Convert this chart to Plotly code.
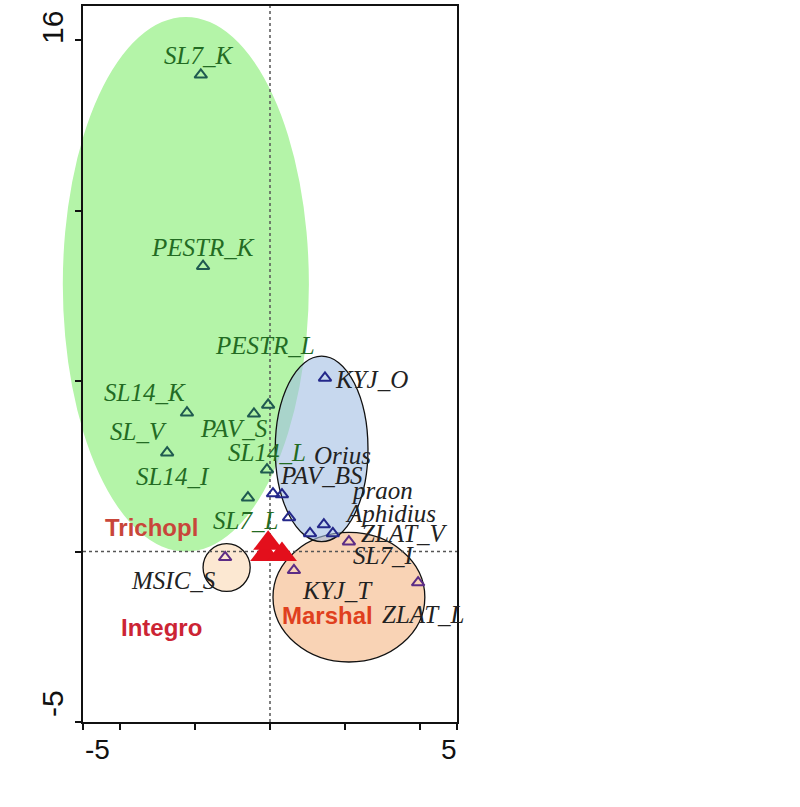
import plotly.graph_objects as go

# ---------------- data ----------------
site_names = ["SL7_K", "PESTR_K", "PESTR_L", "SL14_K", "SL_V", "PAV_S", "SL14_L", "SL14_I",
              "SL7_L", "KYJ_O", "PAV_BS", "Orius", "praon", "Aphidius", "ZLAT_V",
              "SL7_I", "KYJ_T", "ZLAT_L", "MSIC_S"]
site_x = [-1.85, -1.79, -0.05, -2.22, -2.75, -0.43, -0.08, -0.59,
          0.51, 1.47, 0.08, 0.32, 1.44, 1.07, 1.68,
          2.11, 0.64, 3.96, -1.20]
site_y = [13.98, 8.37, 4.30, 4.07, 2.90, 4.04, 2.40, 1.58,
          1.00, 5.09, 1.70, 1.67, 0.79, 0.53, 0.53,
          0.29, -0.55, -0.91, -0.17]
site_marker_group = ["g", "g", "g", "g", "g", "g", "g", "g",
                     "b", "b", "b", "b", "b", "b", "b",
                     "p", "p", "p", "p"]
site_label_group = ["g", "g", "g", "g", "g", "g", "g", "g",
                    "g", "k", "k", "k", "k", "k", "k",
                    "k", "k", "k", "k"]

treat_names = ["Trichopl", "Integro", "Marshal"]
treat_x = [-0.13, -0.05, 0.32]
treat_y = [-0.09, 0.24, -0.09]

# group ellipses (centre, semi-axes) in data units
ell_names = ["green", "msic", "orange", "blue"]
ell_cx = [-2.25, -1.16, 2.11, 1.38]
ell_cy = [7.84, -0.47, -1.34, 3.01]
ell_rx = [3.29, 0.63, 2.03, 1.24]
ell_ry = [7.84, 0.70, 1.90, 2.72]

x_ticks = [-5, -4, -2, 0, 2, 4, 5]
y_ticks = [-5, 0, 5, 10, 15]
x_range = [-5, 5]
y_range = [-5, 16]

# ---------------- styles ----------------
marker_colors = {"g": "#1f5a50", "b": "#24288a", "p": "#5c2c85"}
label_colors = {"g": "#236b23", "k": "#222222"}
ell_styles = {
    "green": dict(fillcolor="#b4f4a8", line=dict(width=0)),
    "msic": dict(fillcolor="#fce8d2", line=dict(color="#111111", width=1.3)),
    "orange": dict(fillcolor="#f9d3b5", line=dict(color="#111111", width=1.3)),
    "blue": dict(fillcolor="rgba(162,190,227,0.6)", line=dict(color="#111111", width=1.3)),
}
# label pixel offsets (dx right, dy up)
site_label_offsets = [(-2, 19), (0, 19), (-3, 59), (-42, 20), (-29, 21), (-20, -15), (0, 17), (-75, 21),
                      (-44, -3), (47, -2), (49, 18), (61, 39), (58, 34), (80, 20), (72, 0),
                      (35, -14), (44, -20), (5, -32), (-52, -23)]
treat_label_offsets = [(-114, 27), (-107, -84), (46, -61)]
treat_label_colors = ["#c8463a", "#cc2434", "#e0401e"]

SERIF = "Liberation Serif, Times New Roman, serif"
SANS = "Liberation Sans, Arial, sans-serif"

fig = go.Figure()

# ellipses (x in axis-domain units so the green one can spill past the left axis)
span = x_range[1] - x_range[0]
for nm, cx, cy, rx, ry in zip(ell_names, ell_cx, ell_cy, ell_rx, ell_ry):
    fig.add_shape(type="circle", xref="x domain", yref="y", layer="below",
                  x0=(cx - rx - x_range[0]) / span, x1=(cx + rx - x_range[0]) / span,
                  y0=cy - ry, y1=cy + ry, **ell_styles[nm])

# dotted origin lines
fig.add_shape(type="line", xref="x", yref="y", layer="below", x0=0, x1=0, y0=y_range[0], y1=y_range[1],
              line=dict(color="#555555", width=1.5, dash="dot"))
fig.add_shape(type="line", xref="x", yref="y", layer="below", x0=x_range[0], x1=x_range[1], y0=0, y1=0,
              line=dict(color="#555555", width=1.5, dash="dot"))

# site / species markers
fig.add_trace(go.Scatter(
    x=site_x, y=site_y, mode="markers", hoverinfo="text", text=site_names,
    marker=dict(symbol="triangle-up-open", size=11,
                color=[marker_colors[g] for g in site_marker_group],
                line=dict(width=2, color=[marker_colors[g] for g in site_marker_group])),
    showlegend=False))

# treatment markers
fig.add_trace(go.Scatter(
    x=treat_x, y=treat_y, mode="markers", hoverinfo="text", text=treat_names,
    marker=dict(symbol="triangle-up", size=26, color="#e30f1c", line=dict(width=0)),
    showlegend=False))

# labels
for nm, x, y, g, (dx, dy) in zip(site_names, site_x, site_y, site_label_group, site_label_offsets):
    fig.add_annotation(x=x, y=y, text=nm, showarrow=False, xshift=dx, yshift=dy,
                       xanchor="center", yanchor="middle",
                       font=dict(family=SERIF, size=25, color=label_colors[g], style="italic"))
for nm, x, y, c, (dx, dy) in zip(treat_names, treat_x, treat_y, treat_label_colors, treat_label_offsets):
    fig.add_annotation(x=x, y=y, text="<b>%s</b>" % nm, showarrow=False, xshift=dx, yshift=dy,
                       xanchor="center", yanchor="middle",
                       font=dict(family=SANS, size=24, color=c))

# axis end labels (placed inside the ends, as in the original)
end_font_x = dict(family=SANS, size=28, color="#111111")
end_font_y = dict(family=SANS, size=30, color="#111111")
fig.add_annotation(x=x_range[0], y=0, xref="x", yref="paper", text=str(x_range[0]), showarrow=False,
                   xanchor="center", yanchor="middle", xshift=14, yshift=-27, font=end_font_x)
fig.add_annotation(x=x_range[1], y=0, xref="x", yref="paper", text=str(x_range[1]), showarrow=False,
                   xanchor="center", yanchor="middle", xshift=-8, yshift=-27, font=end_font_x)
fig.add_annotation(x=0, y=y_range[1], xref="paper", yref="y", text=str(y_range[1]), showarrow=False,
                   xanchor="center", yanchor="middle", xshift=-31, yshift=-22, textangle=-90, font=end_font_y)
fig.add_annotation(x=0, y=y_range[0], xref="paper", yref="y", text=str(y_range[0]), showarrow=False,
                   xanchor="center", yanchor="middle", xshift=-31, yshift=18, textangle=-90, font=end_font_y)

axis_common = dict(showgrid=False, zeroline=False, showline=True, linecolor="#111111", linewidth=2,
                   mirror=True, ticks="outside", ticklen=6, tickwidth=2, tickcolor="#111111",
                   showticklabels=False)
fig.update_xaxes(range=x_range, tickvals=x_ticks, **axis_common)
fig.update_yaxes(range=y_range, tickvals=y_ticks, **axis_common)

fig.update_layout(width=800, height=807, margin=dict(l=83, r=343, t=4, b=85),
                  plot_bgcolor="white", paper_bgcolor="white", showlegend=False)

fig.write_html("out.html", config={"displayModeBar": False},
               post_script="document.body.style.margin='0';")
